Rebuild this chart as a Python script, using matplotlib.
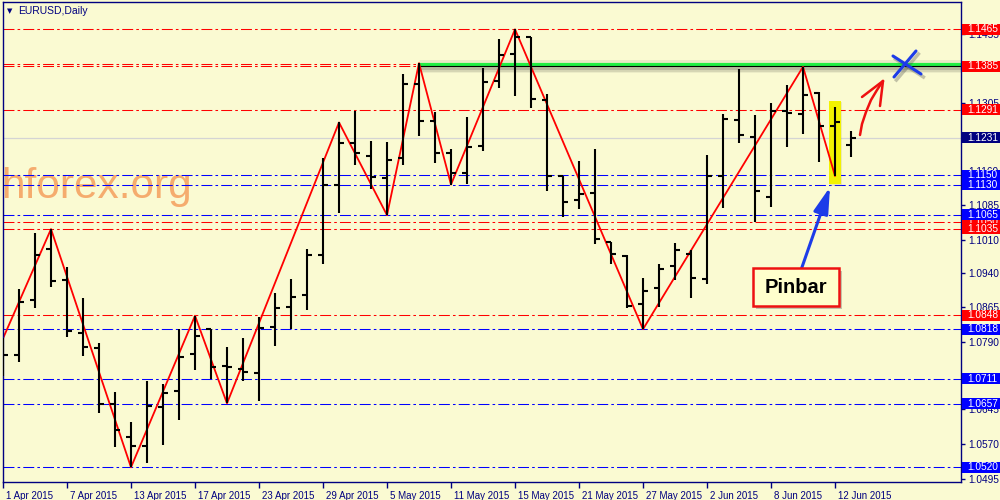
import matplotlib
matplotlib.use("Agg")
import matplotlib.pyplot as plt
from matplotlib.patches import Rectangle, FancyArrowPatch
from matplotlib.transforms import blended_transform_factory, ScaledTranslation
import numpy as np

# daily EURUSD bars, 1 Apr 2015 .. 15 Jun 2015
opens = [1.0750, 1.0762, 1.0881, 1.0991, 1.0924, 1.0810, 1.0778, 1.0656, 1.0585, 1.0566,
         1.0650, 1.0685, 1.0765, 1.0818, 1.0738, 1.0733, 1.0724, 1.0823, 1.0866, 1.0892,
         1.0978, 1.1128, 1.1220, 1.1192, 1.1145, 1.1187, 1.1346, 1.1268, 1.1199, 1.1156,
         1.1213, 1.1353, 1.1411, 1.1448, 1.1312, 1.1149, 1.1096, 1.1112, 1.1007, 1.0976,
         1.0872, 1.0906, 1.0955, 1.0981, 1.0926, 1.1149, 1.1269, 1.1232, 1.1104, 1.1289,
         1.1282, 1.1327, 1.1256, 1.1216]
highs = [1.0798, 1.0904, 1.1025, 1.1034, 1.0953, 1.0885, 1.0788, 1.0682, 1.0618, 1.0706,
         1.0699, 1.0818, 1.0847, 1.0818, 1.0780, 1.0798, 1.0845, 1.0897, 1.0926, 1.0990,
         1.1187, 1.1264, 1.1289, 1.1224, 1.1222, 1.1369, 1.1392, 1.1287, 1.1206, 1.1276,
         1.1381, 1.1444, 1.1465, 1.1448, 1.1325, 1.1149, 1.1180, 1.1206, 1.1007, 1.0978,
         1.0928, 1.0958, 1.1005, 1.0989, 1.1194, 1.1282, 1.1379, 1.1280, 1.1307, 1.1345,
         1.1384, 1.1329, 1.1297, 1.1246]
lows = [1.0716, 1.0748, 1.0863, 1.0908, 1.0802, 1.0761, 1.0637, 1.0564, 1.0520, 1.0530,
        1.0569, 1.0621, 1.0730, 1.0710, 1.0658, 1.0707, 1.0664, 1.0782, 1.0818, 1.0859,
        1.0958, 1.1069, 1.1173, 1.1121, 1.1064, 1.1173, 1.1235, 1.1177, 1.1130, 1.1131,
        1.1202, 1.1339, 1.1322, 1.1296, 1.1117, 1.1059, 1.1078, 1.1001, 1.0958, 1.0863,
        1.0818, 1.0865, 1.0924, 1.0885, 1.0915, 1.1079, 1.1220, 1.1049, 1.1082, 1.1212,
        1.1239, 1.1179, 1.1149, 1.1189]
closes = [1.0762, 1.0877, 1.0977, 1.0922, 1.0815, 1.0780, 1.0657, 1.0601, 1.0566, 1.0653,
          1.0681, 1.0759, 1.0804, 1.0737, 1.0736, 1.0725, 1.0821, 1.0864, 1.0888, 1.0978,
          1.1128, 1.1220, 1.1199, 1.1147, 1.1184, 1.1346, 1.1268, 1.1199, 1.1156, 1.1211,
          1.1352, 1.1410, 1.1449, 1.1315, 1.1149, 1.1093, 1.1110, 1.1013, 1.0980, 1.0869,
          1.0901, 1.0947, 1.0989, 1.0928, 1.1149, 1.1272, 1.1237, 1.1117, 1.1289, 1.1284,
          1.1323, 1.1256, 1.1264, 1.1231]

zz_idx = [0, 3, 8, 12, 14, 21, 24, 26, 28, 32, 40, 50, 52]
zz_price = [1.0798, 1.1034, 1.0520, 1.0847, 1.0658, 1.1264, 1.1064, 1.1392, 1.1130,
            1.1465, 1.0818, 1.1384, 1.1149]

red_levels = [1.1465, 1.1391, 1.1385, 1.1291, 1.1050, 1.1035, 1.0848]
blue_levels = [1.1150, 1.1130, 1.1065, 1.0818, 1.0711, 1.0657, 1.0520]
resistance = 1.1385
current = 1.1231

date_idx = [0, 4, 8, 12, 16, 20, 24, 28, 32, 36, 40, 44, 48, 52]
date_labels = ["1 Apr 2015", "7 Apr 2015", "13 Apr 2015", "17 Apr 2015", "23 Apr 2015",
               "29 Apr 2015", "5 May 2015", "11 May 2015", "15 May 2015", "21 May 2015",
               "27 May 2015", "2 Jun 2015", "8 Jun 2015", "12 Jun 2015"]
price_ticks = [1.0495, 1.0570, 1.0645, 1.0720, 1.0790, 1.0865, 1.0940, 1.1010,
               1.1085, 1.1160, 1.1230, 1.1305, 1.1380, 1.1455]
# tick labels fully covered by the price boxes
hidden_ticks = [1.0720, 1.1230, 1.1380]

BG = "#fafad2"
NAVY = "#000080"
PX = 1 / 4635.0   # price per pixel
FONT = "Liberation Sans"

fig = plt.figure(figsize=(10, 5), dpi=100)
fig.patch.set_facecolor(BG)
ax = fig.add_axes([3 / 1000, 1 - 482.3 / 500, 958 / 1000, 480.3 / 500])
ax.set_facecolor(BG)
ax.set_xlim(0, 958 / 16)
ax.set_ylim(1.0520 - 15 * PX, 1.0520 + 465.3 * PX)
for s in ax.spines.values():
    s.set_color(NAVY)
    s.set_linewidth(1.0)

# watermark
ax.text(-0.125, 1.1101, "hforex.org", fontsize=30.5, family="Liberation Sans",
        color="#f5a463", alpha=0.9, ha="left", va="baseline", zorder=0.5)

# level lines
dd = (0, (10.5, 3, 2.5, 3))
for lv in red_levels:
    ax.axhline(lv, color="#ff0000", lw=0.75, ls=dd, zorder=1)
for lv in blue_levels:
    ax.axhline(lv, color="#0000ff", lw=0.75, ls=dd, zorder=1)
ax.axhline(current, color="#d4d4d4", lw=0.9, zorder=0.8)

# green resistance line with shadow
x0 = zz_idx[7]
xe = 958 / 16
for k, a in [(-2.5, 0.08), (2.5, 0.18), (4, 0.12), (5.5, 0.07)]:
    ax.plot([x0, xe], [resistance + 1.5 * PX - k * PX] * 2, color="#303030",
            lw=3.5, alpha=a, solid_capstyle="butt", zorder=1.1)
ax.plot([x0, xe], [resistance + 1.5 * PX] * 2, color="#22ee44", lw=3.0,
        solid_capstyle="butt", zorder=1.2)
ax.plot([x0, xe], [resistance] * 2, color="black", lw=0.8, zorder=1.3)

# yellow highlight on the pinbar
ax.add_patch(Rectangle((51.6 + 0.08, 1.1131 - 1.5 * PX), 0.75, 0.0180, color="#9a9a40",
                       alpha=0.18, lw=0, zorder=1.4))
ax.add_patch(Rectangle((51.6, 1.1131), 0.75, 0.0180, color="#f2f200", lw=0, zorder=1.5))

# OHLC bars
idx = np.arange(len(opens))
ax.vlines(idx, lows, highs, color="black", lw=1.5, zorder=3)
ax.hlines(opens, idx - 0.33, idx, color="black", lw=1.5, zorder=3)
ax.hlines(closes, idx, idx + 0.33, color="black", lw=1.5, zorder=3)

# zigzag
ax.plot(zz_idx, zz_price, color="#ff0000", lw=1.3, zorder=2.5)

# helpers: screen pixel -> data, for the hand-drawn marks
def bx(px):
    return (px - 3) / 16.0

def py(y):
    return 1.0520 + (467.3 - y) * PX

# blue X
for (xa, ya, xb, yb) in [(893, 56, 921, 74), (916, 51, 894, 77)]:
    ax.plot([bx(xa) + 0.15, bx(xb) + 0.15], [py(ya + 3), py(yb + 3)], color="#404040",
            alpha=0.3, lw=2.5, zorder=4)
    ax.plot([bx(xa), bx(xb)], [py(ya), py(yb)], color="#1c3ce8", lw=2.2,
            solid_capstyle="round", zorder=4.1)

# red hand-drawn arrow
stem = [(860, 135), (862, 124), (866, 112), (871, 100), (877, 90), (883, 81)]
ax.plot([bx(p[0]) for p in stem], [py(p[1]) for p in stem], color="#ee1010", lw=1.8,
        solid_capstyle="round", zorder=4)
for tip in [(862, 97), (880, 106)]:
    ax.plot([bx(883), bx(tip[0])], [py(81), py(tip[1])], color="#ee1010", lw=1.8,
            solid_capstyle="round", zorder=4)

# blue arrow to the pinbar
arr = FancyArrowPatch((bx(801), py(270)), (bx(830), py(187)),
                      arrowstyle="-|>,head_length=16,head_width=4.5",
                      color="#1c3ce8", lw=2.2, mutation_scale=1, shrinkA=0, shrinkB=0,
                      zorder=4)
ax.add_patch(arr)

# Pinbar callout
bx0, bx1 = bx(753), bx(839)
by0, by1 = py(306), py(268)
ax.add_patch(Rectangle((bx0 + 0.2, by0 - 3 * PX), bx1 - bx0, by1 - by0, color="#606060",
                       alpha=0.35, lw=0, zorder=4.5))
ax.add_patch(Rectangle((bx0, by0), bx1 - bx0, by1 - by0, fc="#ffffcc", ec="#ee1111",
                       lw=1.8, zorder=5))
ax.text((bx0 + bx1) / 2, (by0 + by1) / 2, "Pinbar", fontsize=14.5, fontweight="bold",
        family="Liberation Sans", color="black", ha="center", va="center", zorder=6)

# x axis: dates
ax.set_xticks(date_idx)
ax.set_xticklabels(date_labels)
ax.tick_params(axis="x", direction="out", length=4, width=1, color=NAVY,
               labelcolor=NAVY, labelsize=7, pad=2)
off = ScaledTranslation(3 / 100, 0, fig.dpi_scale_trans)
for lab in ax.get_xticklabels():
    lab.set_horizontalalignment("left")
    lab.set_transform(lab.get_transform() + off)
    lab.set_family(FONT)

# y axis on the right
ax.yaxis.tick_right()
ax.set_yticks(price_ticks)
ax.set_yticklabels(["" if v in hidden_ticks else f"{v:.4f}" for v in price_ticks])
ax.tick_params(axis="y", direction="out", length=3, width=1, color=NAVY,
               labelcolor=NAVY, labelsize=7.3, pad=2.5)
for lab in ax.get_yticklabels():
    lab.set_family(FONT)

# right-axis price boxes
tr = blended_transform_factory(ax.transAxes, ax.transData)
bw = 38 / 958
bh = 11 * PX
boxes = [(1.1465, "#ff0000"), (1.1385, "#ff0000"), (1.1291, "#ff0000"),
         (1.1050, "#ff0000"), (1.1065, "#0000ff"), (1.1035, "#ff0000"),
         (1.1150, "#0000ff"), (1.1130, "#0000ff"), (1.0848, "#ff0000"),
         (1.0818, "#0000ff"), (1.0711, "#0000ff"), (1.0657, "#0000ff"),
         (1.0520, "#0000ff"), (current, NAVY)]
for z, (v, c) in enumerate(boxes):
    ax.add_patch(Rectangle((1.001, v - bh / 2), bw, bh, transform=tr, color=c, lw=0,
                           clip_on=False, zorder=7 + z * 0.01))
    ax.text(1.0065, v, f"{v:.4f}", transform=tr, color="white", fontsize=7.3,
            family=FONT, ha="left", va="center", clip_on=False, zorder=7.005 + z * 0.01)

# header
fig.text(6.5 / 1000, 1 - 11 / 500, "\u25bc", fontsize=5, color=NAVY, va="center",
         family="DejaVu Sans")
fig.text(18 / 1000, 1 - 11 / 500, "EURUSD,Daily", fontsize=7.5, color=NAVY, va="center",
         family=FONT)

fig.savefig("out.png", dpi=100, facecolor=BG)
